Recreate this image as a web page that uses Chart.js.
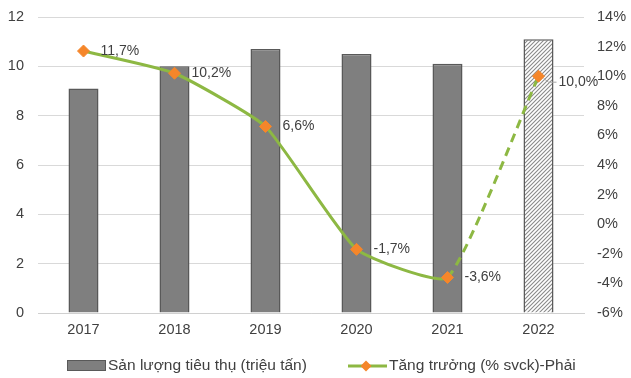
<!DOCTYPE html>
<html>
<head>
<meta charset="utf-8">
<script src="https://cdn.jsdelivr.net/npm/chart.js@4/dist/chart.umd.min.js"></script>
<style>
  html, body { margin: 0; padding: 0; background: #fff; }
  #wrap { width: 631px; height: 378px; position: relative; }
</style>
</head>
<body>
<div id="wrap"><canvas id="c" width="631" height="378"></canvas></div>
<script>
// Years on the category axis
const categories = ['2017', '2018', '2019', '2020', '2021', '2022'];
// Consumption volume, million tonnes (left axis)
const volume = [9.1, 10.0, 10.7, 10.5, 10.1, 11.1];
// Year-on-year growth, % (right axis)
const growth = [11.7, 10.2, 6.6, -1.7, -3.6, 10.0];
const growthLabels = ['11,7%', '10,2%', '6,6%', '-1,7%', '-3,6%', '10,0%'];
const legendLabels = ['Sản lượng tiêu thụ (triệu tấn)', 'Tăng trưởng (% svck)-Phải'];

const FONT = "'Liberation Sans', Arial, sans-serif";
const BAR = '#7f7f7f', BAR_EDGE = '#595959', GREEN = '#8DB843', ORANGE = '#F5862A', TEXT = '#404040';

// Diagonal hatch for the forecast year
function hatch() {
  const p = document.createElement('canvas');
  p.width = 4; p.height = 4;
  const g = p.getContext('2d');
  g.fillStyle = '#fff'; g.fillRect(0, 0, 4, 4);
  g.strokeStyle = '#8a8a8a'; g.lineWidth = 1.1;
  g.beginPath();
  g.moveTo(-1, 5); g.lineTo(5, -1);
  g.moveTo(-1, 1); g.lineTo(1, -1);
  g.moveTo(3, 5); g.lineTo(5, 3);
  g.stroke();
  return document.getElementById('c').getContext('2d').createPattern(p, 'repeat');
}
const hatchFill = hatch();
const barFills = categories.map((_, i) => i === categories.length - 1 ? hatchFill : BAR);

// Value labels beside the growth markers, plus the legend row
const labelsPlugin = {
  id: 'labelsPlugin',
  afterDatasetsDraw(chart) {
    const ctx = chart.ctx;
    const meta = chart.getDatasetMeta(0);
    ctx.save();
    ctx.font = '14px ' + FONT;
    ctx.fillStyle = TEXT;
    ctx.textBaseline = 'middle';
    ctx.textAlign = 'left';
    meta.data.forEach((pt, i) => {
      let x = pt.x + 17, y = pt.y;
      if (i === growth.length - 1) {
        x = pt.x + 20; y = pt.y + 6;
        ctx.strokeStyle = '#a6a6a6'; ctx.lineWidth = 1;
        ctx.beginPath(); ctx.moveTo(pt.x + 5, pt.y + 2); ctx.lineTo(pt.x + 10, y); ctx.lineTo(pt.x + 18, y); ctx.stroke();
      }
      ctx.fillText(growthLabels[i], x, y);
    });

    // legend
    const ly = 366;
    ctx.font = '15.5px ' + FONT;
    ctx.fillStyle = BAR; ctx.strokeStyle = BAR_EDGE; ctx.lineWidth = 1;
    ctx.fillRect(67.5, ly - 5.5, 38, 10); ctx.strokeRect(67.5, ly - 5.5, 38, 10);
    ctx.fillStyle = TEXT;
    ctx.fillText(legendLabels[0], 108, ly);
    ctx.strokeStyle = GREEN; ctx.lineWidth = 3;
    ctx.beginPath(); ctx.moveTo(348, ly); ctx.lineTo(387, ly); ctx.stroke();
    ctx.fillStyle = ORANGE;
    ctx.beginPath(); ctx.moveTo(366, ly - 5.5); ctx.lineTo(371.5, ly); ctx.lineTo(366, ly + 5.5); ctx.lineTo(360.5, ly); ctx.closePath(); ctx.fill();
    ctx.fillStyle = TEXT;
    ctx.fillText(legendLabels[1], 389, ly);
    ctx.restore();
  }
};

// Fix the axis band width and drop the automatic label overhang padding
const fitY = w => s => { s.width = w; s.paddingTop = 0; s.paddingBottom = 0; };

new Chart(document.getElementById('c'), {
  data: {
    labels: categories,
    datasets: [
      {
        type: 'line',
        label: legendLabels[1],
        data: growth,
        yAxisID: 'y1',
        borderColor: GREEN,
        borderWidth: 3,
        tension: 0.15,
        pointStyle: 'rectRot',
        pointRadius: 6,
        pointBackgroundColor: ORANGE,
        pointBorderColor: ORANGE,
        pointBorderWidth: 1,
        segment: {
          borderDash: c => c.p1DataIndex === growth.length - 1 ? [9, 6] : undefined
        },
        order: 0
      },
      {
        type: 'bar',
        label: legendLabels[0],
        data: volume,
        yAxisID: 'y',
        backgroundColor: barFills,
        borderColor: BAR_EDGE,
        borderWidth: 1.5,
        borderSkipped: 'bottom',
        barPercentage: 0.33,
        categoryPercentage: 1,
        order: 1
      }
    ]
  },
  options: {
    responsive: false,
    animation: false,
    layout: { padding: { top: 17, left: 0, right: 0, bottom: 34 } },
    plugins: { legend: { display: false }, tooltip: { enabled: false } },
    scales: {
      x: {
        offset: true,
        grid: { display: false, drawTicks: false },
        border: { display: true, color: '#d0d0d0', width: 1 },
        ticks: { color: TEXT, font: { family: FONT, size: 14.5 }, padding: 8 },
        afterFit: s => { s.height = 31; s.paddingLeft = 0; s.paddingRight = 0; }
      },
      y: {
        position: 'left',
        min: 0, max: 12,
        ticks: { stepSize: 2, color: TEXT, font: { family: FONT, size: 14.5 }, padding: 14 },
        grid: { color: '#d9d9d9', lineWidth: 1, drawTicks: false },
        border: { display: false },
        afterFit: fitY(38)
      },
      y1: {
        position: 'right',
        min: -6, max: 14,
        ticks: { stepSize: 2, color: TEXT, font: { family: FONT, size: 14.5 }, padding: 13,
          callback: v => v + '%' },
        grid: { display: false, drawTicks: false },
        border: { display: false },
        afterFit: fitY(47)
      }
    }
  },
  plugins: [labelsPlugin]
});
</script>
</body>
</html>
